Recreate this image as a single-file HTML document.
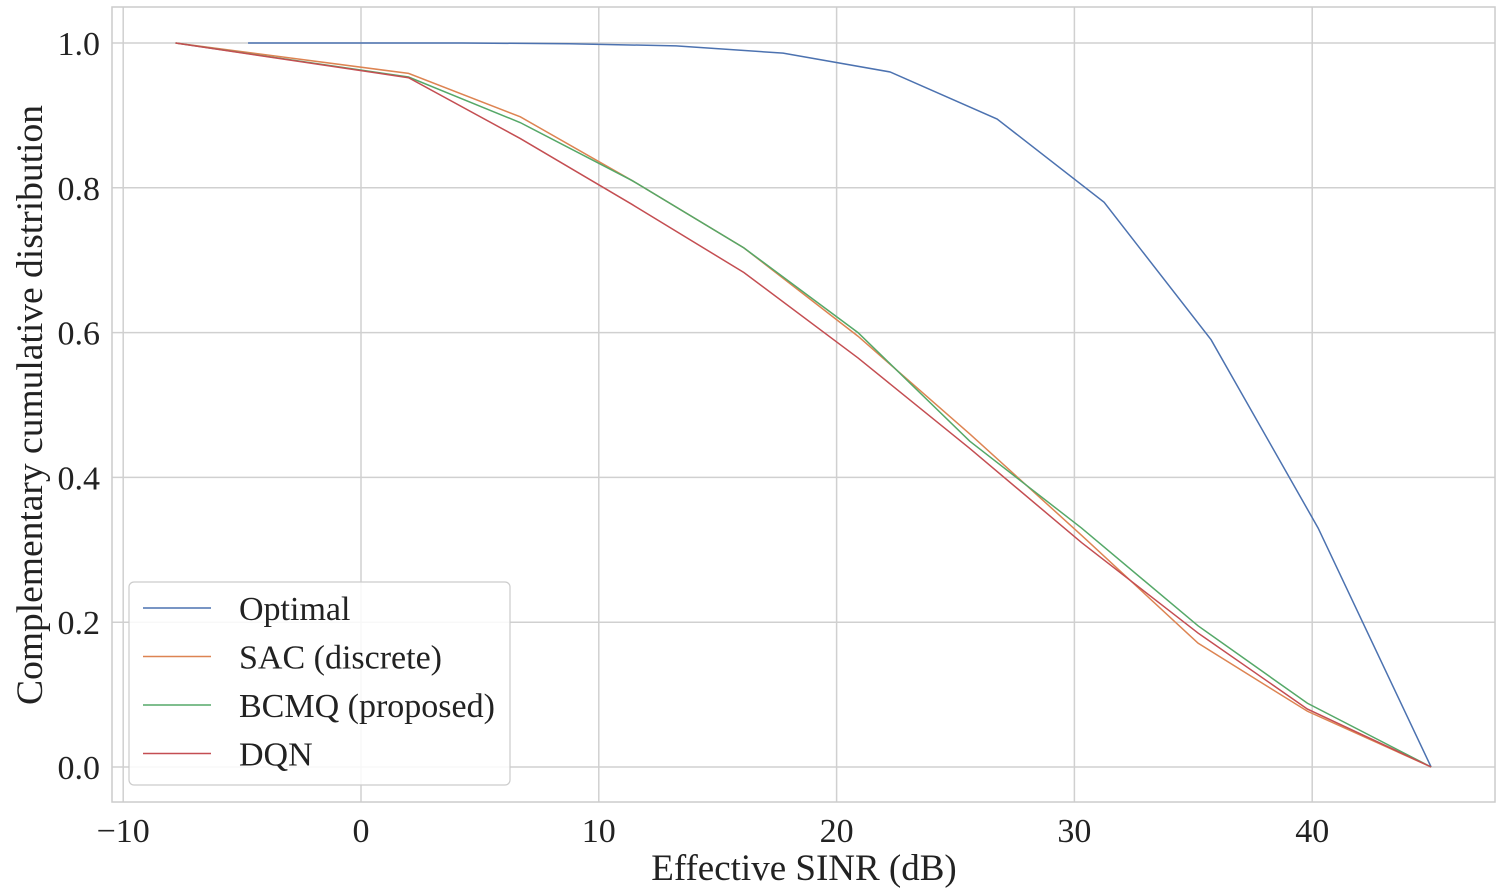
<!DOCTYPE html>
<html><head><meta charset="utf-8"><style>
body{margin:0;background:#fff;}
svg{display:block;font-family:"Liberation Serif",serif;}
</style></head><body>
<svg id="chart" width="1507" height="890" xmlns="http://www.w3.org/2000/svg">
<rect width="1507" height="890" fill="#fff"/>
<g id="grid"></g><g id="series"></g><g id="ticks"></g>
<rect x="112" y="7" width="1383" height="795" fill="none" stroke="#ccc" stroke-width="1.5"/>
<text x="804" y="880" font-size="37" text-anchor="middle" fill="#222">Effective SINR (dB)</text>
<text transform="translate(42,405) rotate(-90)" font-size="37.5" text-anchor="middle" fill="#222">Complementary cumulative distribution</text>
<g id="legend"></g>
</svg>
<script>
const xTicks=[-10,0,10,20,30,40];
const yTicks=[0.0,0.2,0.4,0.6,0.8,1.0];
const optX=[-4.75,-0.25,4.25,8.75,13.25,17.75,22.25,26.75,31.25,35.75,40.25,45.0];
const optY=[1.0,1.0,1.0,0.999,0.996,0.986,0.96,0.895,0.78,0.59,0.33,0.0];
const algX=[-7.8,2.0,6.7,11.4,16.1,20.9,25.6,30.3,35.2,39.8,45.0];
const sacY=[1.0,0.958,0.898,0.81,0.717,0.595,0.46,0.32,0.171,0.077,0.0];
const bcmqY=[1.0,0.953,0.89,0.81,0.717,0.6,0.45,0.33,0.195,0.088,0.0];
const dqnY=[1.0,0.952,0.868,0.777,0.683,0.565,0.44,0.31,0.185,0.08,0.0];
const names=["Optimal","SAC (discrete)","BCMQ (proposed)","DQN"];
const colors=["#4c72b0","#dd8452","#55a868","#c44e52"];
const sx=v=>361+(v-0)*23.78;
const sy=v=>767-v*724;
const NS="http://www.w3.org/2000/svg";
const mk=(t,a,p)=>{const e=document.createElementNS(NS,t);for(const k in a)e.setAttribute(k,a[k]);p.appendChild(e);return e;};
const grid=document.getElementById('grid'),ticks=document.getElementById('ticks');
xTicks.forEach(t=>{
 const l=mk('line',{x1:sx(t),x2:sx(t),y1:7,y2:802,stroke:'#d0d0d0','stroke-width':1.5},grid);
 
 
 const tx=mk('text',{x:sx(t),y:842,'font-size':34,'text-anchor':'middle',fill:'#222'},ticks);
 tx.textContent=t<0?'\u2212'+Math.abs(t):t;
 
 
});
yTicks.forEach(t=>{
 const l=mk('line',{x1:112,x2:1495,y1:sy(t),y2:sy(t),stroke:'#d0d0d0','stroke-width':1.5},grid);
 
 
 const tx=mk('text',{x:100,y:sy(t)+12,'font-size':34,'text-anchor':'end',fill:'#222'},ticks);
 tx.textContent=t.toFixed(1);
 
 
});
const ser=document.getElementById('series');
const data=[[optX,optY],[algX,sacY],[algX,bcmqY],[algX,dqnY]];
const ids=['optimal-line','sac-line','bcmq-line','dqn-line'];
data.forEach((d,i)=>{
 const pts=d[0].map((x,j)=>sx(x)+','+sy(d[1][j])).join(' ');
 const p=mk('polyline',{points:pts,fill:'none',stroke:colors[i],'stroke-width':1.5},ser);
 
 
});
const lg=document.getElementById('legend');
const box=mk('rect',{x:129,y:582,width:381,height:203,rx:5,fill:'#fff','fill-opacity':0.85,stroke:'#ccc','stroke-width':1.2},lg);


names.forEach((n,i)=>{
 const y=608+i*48.5;
 const l=mk('line',{x1:143,x2:211,y1:y,y2:y,stroke:colors[i],'stroke-width':1.5},lg);
 
 
 const t=mk('text',{x:239,y:y+12,'font-size':34,fill:'#222'},lg);
 t.textContent=n;
 
 
});
</script>
</body></html>
